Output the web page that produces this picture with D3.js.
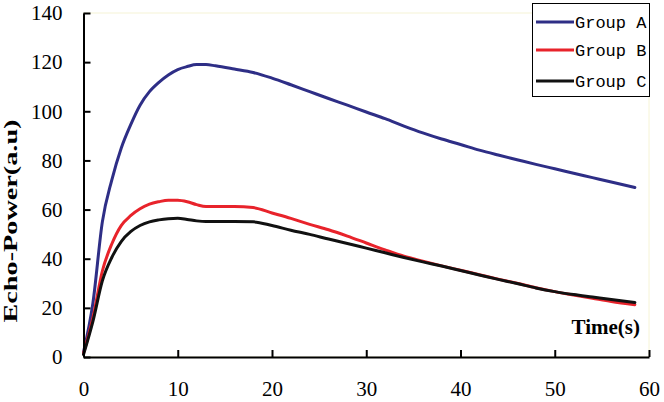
<!DOCTYPE html>
<html>
<head>
<meta charset="utf-8">
<script src="https://cdn.jsdelivr.net/npm/d3@7"></script>
<style>
  html, body { margin: 0; padding: 0; background: #fff; }
  svg { display: block; }
</style>
</head>
<body>
<svg id="chart" width="664" height="402"></svg>
<script>
// ---- Data ----
const time = [0, 1, 2, 3, 4, 5, 6, 7, 8, 9, 10, 11, 12, 13, 14, 16, 18, 20, 22, 24, 26, 28, 30, 32, 34, 36, 38, 40, 42, 44, 46, 48, 50, 52, 54, 56, 58.5];
const groupA = [2, 22, 55, 72, 85, 94.5, 102.5, 108, 111.8, 114.8, 117, 118.2, 119, 119, 118.5, 117.2, 115.8, 113.5, 110.8, 108, 105.2, 102.5, 99.7, 97, 94, 91.2, 88.7, 86.5, 84.2, 82.2, 80.3, 78.4, 76.6, 74.8, 73, 71.2, 69];
const groupB = [1.5, 16, 35, 46, 53.5, 57.5, 60.3, 62.2, 63.2, 63.8, 63.8, 63.2, 62, 61.2, 61.2, 61.2, 60.8, 58.6, 56.4, 54, 51.8, 49.2, 46.4, 43.6, 41.0, 39.0, 37.1, 35.3, 33.5, 31.7, 30.0, 28.2, 26.6, 25.2, 23.9, 22.6, 21.3];
const groupC = [1, 14.5, 31, 40.5, 47, 51, 53.5, 55, 55.8, 56.3, 56.5, 56, 55.4, 55.1, 55.1, 55.1, 55, 53.5, 51.6, 49.9, 48, 46.2, 44.3, 42.4, 40.5, 38.7, 37, 35.2, 33.4, 31.6, 29.9, 28.1, 26.6, 25.4, 24.4, 23.4, 22.2];
const seriesNames = ["Group A", "Group B", "Group C"];
const seriesColors = ["#2e2e86", "#e8232b", "#111111"];
const xTicks = [0, 10, 20, 30, 40, 50, 60];
const yTicks = [0, 20, 40, 60, 80, 100, 120, 140];
const xLabel = "Time(s)";
const yLabel = "Echo-Power(a.u)";

// ---- Layout ----
const svg = d3.select("#chart");
const plotLeft = 83.5, plotRight = 649, plotTop = 13, plotBottom = 357;
const x = d3.scaleLinear().domain([0, 60]).range([plotLeft, plotRight]);
const y = d3.scaleLinear().domain([0, 140]).range([plotBottom, plotTop]);

// faint plot-area border
svg.append("rect")
  .attr("x", plotLeft).attr("y", plotTop)
  .attr("width", plotRight - plotLeft).attr("height", plotBottom - plotTop)
  .attr("fill", "none").attr("stroke", "#f6f4d6").attr("stroke-width", 1);

// series lines
const allSeries = [groupA, groupB, groupC];
const line = d3.line()
  .x((d, i) => x(time[i]))
  .y(d => y(d))
  .curve(d3.curveMonotoneX);

allSeries.forEach((vals, k) => {
  svg.append("path")
    .datum(vals)
    .attr("d", line)
    .attr("fill", "none")
    .attr("stroke", seriesColors[k])
    .attr("stroke-width", 3)
    .attr("stroke-linejoin", "round")
    .attr("stroke-linecap", "round");
});

// axes
const xAxis = d3.axisBottom(x).tickValues(xTicks).tickSizeInner(-7).tickSizeOuter(0).tickPadding(22);
const yAxis = d3.axisLeft(y).tickValues(yTicks).tickSizeInner(-7).tickSizeOuter(0).tickPadding(21);

const gx = svg.append("g").attr("transform", `translate(0,${plotBottom})`).call(xAxis);
const gy = svg.append("g").attr("transform", `translate(${plotLeft},0)`).call(yAxis);

[gx, gy].forEach(g => {
  g.select(".domain").attr("stroke", "#000").attr("stroke-width", 2);
  g.selectAll(".tick line").attr("stroke", "#000").attr("stroke-width", 2);
  g.selectAll(".tick text")
    .attr("fill", "#000")
    .style("font-family", "'Liberation Serif', 'Times New Roman', serif")
    .style("font-size", "21px");
});
gx.selectAll(".tick text").attr("y", 24).attr("dy", "0.71em");

// axis titles
svg.append("text")
  .attr("transform", `translate(17,221) rotate(-90)`)
  .attr("text-anchor", "middle")
  .attr("textLength", 203)
  .attr("lengthAdjust", "spacingAndGlyphs")
  .style("font-family", "'Liberation Serif', 'Times New Roman', serif")
  .style("font-weight", "bold")
  .style("font-size", "18px")
  .attr("fill", "#000")
  .text(yLabel);

svg.append("text")
  .attr("x", 640).attr("y", 334)
  .attr("text-anchor", "end")
  .style("font-family", "'Liberation Serif', 'Times New Roman', serif")
  .style("font-weight", "bold")
  .style("font-size", "21px")
  .attr("fill", "#000")
  .text(xLabel);

// legend
const lg = svg.append("g");
lg.append("rect")
  .attr("x", 532.5).attr("y", 3.5).attr("width", 117).attr("height", 93)
  .attr("fill", "#fff").attr("stroke", "#000").attr("stroke-width", 1);
const legendY = [22, 50, 81];
seriesNames.forEach((name, k) => {
  lg.append("line")
    .attr("x1", 536).attr("x2", 574)
    .attr("y1", legendY[k]).attr("y2", legendY[k])
    .attr("stroke", seriesColors[k]).attr("stroke-width", 3);
  lg.append("text")
    .attr("x", 575).attr("y", legendY[k])
    .attr("dy", "0.35em")
    .style("font-family", "'Liberation Mono', 'DejaVu Sans Mono', monospace")
    .style("font-size", "17px")
    .attr("fill", "#000")
    .text(name);
});
</script>
</body>
</html>
